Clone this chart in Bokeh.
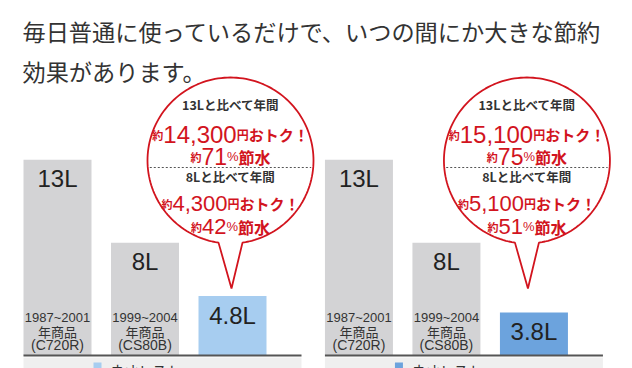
import math
from bokeh.plotting import figure
from bokeh.models import Range1d, ColumnDataSource
from bokeh.embed import file_html
from bokeh.resources import INLINE

# ---------------- data ----------------
title_lines = ["毎日普通に使っているだけで、いつの間にか大きな節約", "効果があります。"]
bar_liters_left = [13, 8, 4.8]
bar_liters_right = [13, 8, 3.8]
bar_labels_left = ["13L", "8L", "4.8L"]
bar_labels_right = ["13L", "8L", "3.8L"]
old_model_years = ["1987~2001", "1999~2004"]
old_model_suffix = ["年商品", "年商品"]
old_model_codes = ["(C720R)", "(CS80B)"]
vs13_header = "13Lと比べて年間"
vs8_header = "8Lと比べて年間"
vs13_yen = ["14,300", "15,100"]
vs13_pct = ["71", "75"]
vs8_yen = ["4,300", "5,100"]
vs8_pct = ["42", "51"]
legend_label = "ネオレスト"

# ---------------- style ----------------
GRAY = "#d3d3d5"
NEW_COLORS = ["#a7cdf0", "#6ca3dd"]
RED = "#d2141e"
DARK = "#333333"
CJK = "Noto Sans CJK JP"
LAT = "Liberation Sans"

# ---------------- layout / scales ----------------
W, H = 632, 368
SLOT_PX = 87.5        # pixels per bar slot
SLOT0_PX = 57.0       # x of first slot centre
PANEL_SLOTS = 3.445   # slot offset of the second panel
BAR_W = 68 / SLOT_PX
BASE_PX = 355.0       # y of the baseline
L_PX = 16.62          # pixels per litre
FLOOR = 1.22          # litre value at the baseline


def xd(px):
    return (px - SLOT0_PX) / SLOT_PX


def yd(py):
    return FLOOR + (BASE_PX - py) / L_PX


def xp(xv):
    return SLOT0_PX + xv * SLOT_PX


p = figure(width=W, height=H, x_range=Range1d(xd(0), xd(W)), y_range=Range1d(yd(H), yd(0)),
           output_backend="svg", toolbar_location=None, x_axis_type=None, y_axis_type=None,
           min_border=0, outline_line_color=None, background_fill_color="white",
           border_fill_color="white")


def add_texts(items, align, baseline):
    src = ColumnDataSource(dict(
        x=[i[0] for i in items], y=[i[1] for i in items], text=[i[2] for i in items],
        font=[i[3] for i in items], size=["%.1fpx" % i[4] for i in items],
        color=[i[5] for i in items], style=[i[6] for i in items]))
    p.text(x="x", y="y", text="text", source=src, text_font="font", text_font_size="size",
           text_color="color", text_font_style="style", text_align=align, text_baseline=baseline)


def seg_width(text, size):
    em = 0.0
    for ch in text:
        if ord(ch) >= 0x2E80:
            em += 1.0
        elif ch.isdigit():
            em += 0.556
        elif ch in ",.":
            em += 0.278
        elif ch == "%":
            em += 0.889
        else:
            em += 0.6
    return em * size


# title
add_texts([(xd(22), yd(30), title_lines[0], CJK, 23.2, DARK, "normal"),
           (xd(22), yd(70), title_lines[1], CJK, 23.2, DARK, "normal")], "left", "middle")

panels = [(bar_liters_left, bar_labels_left), (bar_liters_right, bar_labels_right)]
center_items, left_items, alpha_items, head_items = [], [], [], []

for k, (vals, labels) in enumerate(panels):
    xs = [k * PANEL_SLOTS + i for i in range(len(vals))]
    colors = [GRAY, GRAY, NEW_COLORS[k]]
    p.vbar(x=xs, top=vals, bottom=FLOOR, width=BAR_W, fill_color=colors, line_color=None)

    # band + baseline
    x_left = xs[0] - BAR_W / 2
    x_right = xs[-1] + BAR_W / 2 + 35 / SLOT_PX
    p.quad(left=[x_left], right=[x_right], top=[yd(BASE_PX + 2)], bottom=[yd(H + 20)],
           fill_color="#efefef", line_color=None)
    p.segment(x0=[x_left], y0=[FLOOR], x1=[x_right], y1=[FLOOR], line_color="#555555", line_width=2)

    # legend swatch + label (cut by the lower edge, as in the source)
    sw = xd(xp(x_left) + 70)
    p.quad(left=[sw], right=[xd(xp(sw) + 8)], top=[yd(362)], bottom=[yd(H + 10)],
           fill_color=NEW_COLORS[k], line_color=None)
    left_items.append((xd(xp(sw) + 17), yd(369), legend_label, CJK, 14, DARK, "normal"))

    # value labels
    for x, v, lab in zip(xs, vals, labels):
        center_items.append((x, v - 19 / L_PX, lab, LAT, 24, "#222222", "normal"))

    # old model labels
    for i in range(2):
        center_items.append((xs[i], yd(BASE_PX - 38.3), old_model_years[i], LAT, 13, DARK, "normal"))
        center_items.append((xs[i], yd(BASE_PX - 24), old_model_suffix[i], CJK, 13, DARK, "normal"))
        center_items.append((xs[i], yd(BASE_PX - 10.3), old_model_codes[i], LAT, 14, DARK, "normal"))

    # speech bubble
    cx = xp(xs[2]) + [-2, -7][k]
    cy, r = 160.0, 83.0
    tipx, tipy = cx + 1, 288.0
    phi = math.asin(12 / r)
    n = 160
    pts = [(tipx, tipy)]
    for j in range(n + 1):
        t = phi + (2 * math.pi - 2 * phi) * j / n
        pts.append((cx + r * math.sin(t), cy + r * math.cos(t)))
    pts.append((tipx, tipy))
    p.patch([xd(a) for a, b in pts], [yd(b) for a, b in pts], fill_color="white",
            line_color=RED, line_width=1.8)

    hc = math.sqrt(r * r - 49) - 2
    p.segment(x0=[xd(cx - hc)], y0=[yd(cy + 7)], x1=[xd(cx + hc)], y1=[yd(cy + 7)],
              line_color="#555555", line_width=1, line_dash="2 2")

    head_items.append((xd(cx), yd(cy - 56), vs13_header, CJK, 12.5, DARK, "bold"))
    head_items.append((xd(cx), yd(cy + 16), vs8_header, CJK, 12.5, DARK, "bold"))

    rows = [
        (-26, [("約", CJK, 11), (vs13_yen[k], LAT, 24), ("円", CJK, 12), ("おトク！", CJK, 15)]),
        (-4, [("約", CJK, 11), (vs13_pct[k], LAT, 23), ("%", LAT, 13), ("節水", CJK, 16)]),
        (43, [("約", CJK, 11), (vs8_yen[k], LAT, 22), ("円", CJK, 12), ("おトク！", CJK, 15)]),
        (66, [("約", CJK, 11), (vs8_pct[k], LAT, 22), ("%", LAT, 13), ("節水", CJK, 16)]),
    ]
    for dy, segs in rows:
        widths = [seg_width(t, s) for t, f, s in segs]
        pos = cx - sum(widths) / 2
        for (t, f, s), w in zip(segs, widths):
            style = "bold" if f == CJK else "normal"
            alpha_items.append((xd(pos), yd(cy + dy), t, f, s, RED, style))
            pos += w

add_texts(center_items, "center", "middle")
add_texts(head_items, "center", "middle")
add_texts(alpha_items, "left", "alphabetic")
add_texts(left_items, "left", "middle")

open("out.html", "w").write(file_html(p, INLINE))
